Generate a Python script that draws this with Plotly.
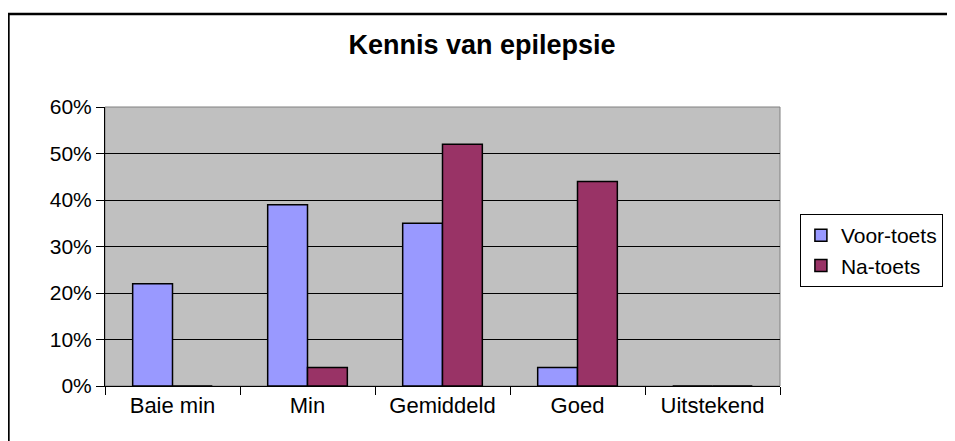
import plotly.graph_objects as go

categories = ["Baie min", "Min", "Gemiddeld", "Goed", "Uitstekend"]
voor_toets = [0.22, 0.39, 0.35, 0.04, 0.0]
na_toets = [0.0, 0.04, 0.52, 0.44, 0.0]
series_names = ["Voor-toets", "Na-toets"]
y_ticks = [0, 0.1, 0.2, 0.3, 0.4, 0.5, 0.6]
y_tick_labels = ["0%", "10%", "20%", "30%", "40%", "50%", "60%"]

OFF = 8  # page body margin
W, H = 955 - OFF, 441 - OFF
L, R, T, B = 105 - OFF, 783 - OFF, 107 - OFF, 386 - OFF  # plot area in figure px
FONT = "Liberation Sans, Arial, sans-serif"

def px_x(p):
    return (p - OFF - L) / (R - L)

def px_y(p):
    return (B - (p - OFF)) / (B - T)

fig = go.Figure()
fig.add_trace(go.Bar(
    x=categories, y=voor_toets, name=series_names[0],
    marker=dict(color="#9999FF", line=dict(color="black", width=1.5)),
))
fig.add_trace(go.Bar(
    x=categories, y=na_toets, name=series_names[1],
    marker=dict(color="#993366", line=dict(color="black", width=1.5)),
))

fig.update_layout(
    width=W, height=H,
    margin=dict(l=L, r=W - R, t=T, b=H - B, pad=0),
    paper_bgcolor="white",
    plot_bgcolor="#C0C0C0",
    barmode="group",
    bargap=0.41,
    bargroupgap=0,
    font=dict(family=FONT, size=21, color="black"),
    title=dict(
        text="<b>Kennis van epilepsie</b>",
        x=(482 - OFF) / W, xanchor="center",
        y=1 - (45 - OFF) / H, yanchor="middle",
        font=dict(family=FONT, size=27, color="black"),
    ),
    legend=dict(
        x=px_x(803), xanchor="left",
        y=px_y(214), yanchor="top",
        bgcolor="white",
        bordercolor="black", borderwidth=1,
        font=dict(family=FONT, size=21, color="black"),
        itemwidth=30,
    ),
    showlegend=True,
    xaxis=dict(
        showline=True, linecolor="black", linewidth=1,
        ticks="outside", ticklen=8, tickcolor="black",
        tickson="boundaries",
        showgrid=False,
        tickfont=dict(family=FONT, size=22, color="black"),
        fixedrange=True,
    ),
    yaxis=dict(
        range=[0, 0.6],
        tickmode="array", tickvals=y_ticks, ticktext=y_tick_labels,
        showline=True, linecolor="black", linewidth=1,
        ticks="outside", ticklen=8, tickcolor="black",
        showgrid=True, gridcolor="black", gridwidth=1,
        zeroline=False,
        tickfont=dict(family=FONT, size=21, color="black"),
        fixedrange=True,
    ),
    shapes=[
        dict(type="rect", xref="paper", yref="paper", x0=0, y0=0, x1=1, y1=1,
             line=dict(color="#808080", width=1), layer="below"),
        dict(type="rect", xref="paper", yref="paper",
             x0=px_x(8), x1=px_x(975), y0=px_y(470), y1=px_y(14),
             line=dict(color="black", width=2.5), fillcolor="rgba(0,0,0,0)",
             layer="above"),
    ],
)

fig.write_html("out.html")
